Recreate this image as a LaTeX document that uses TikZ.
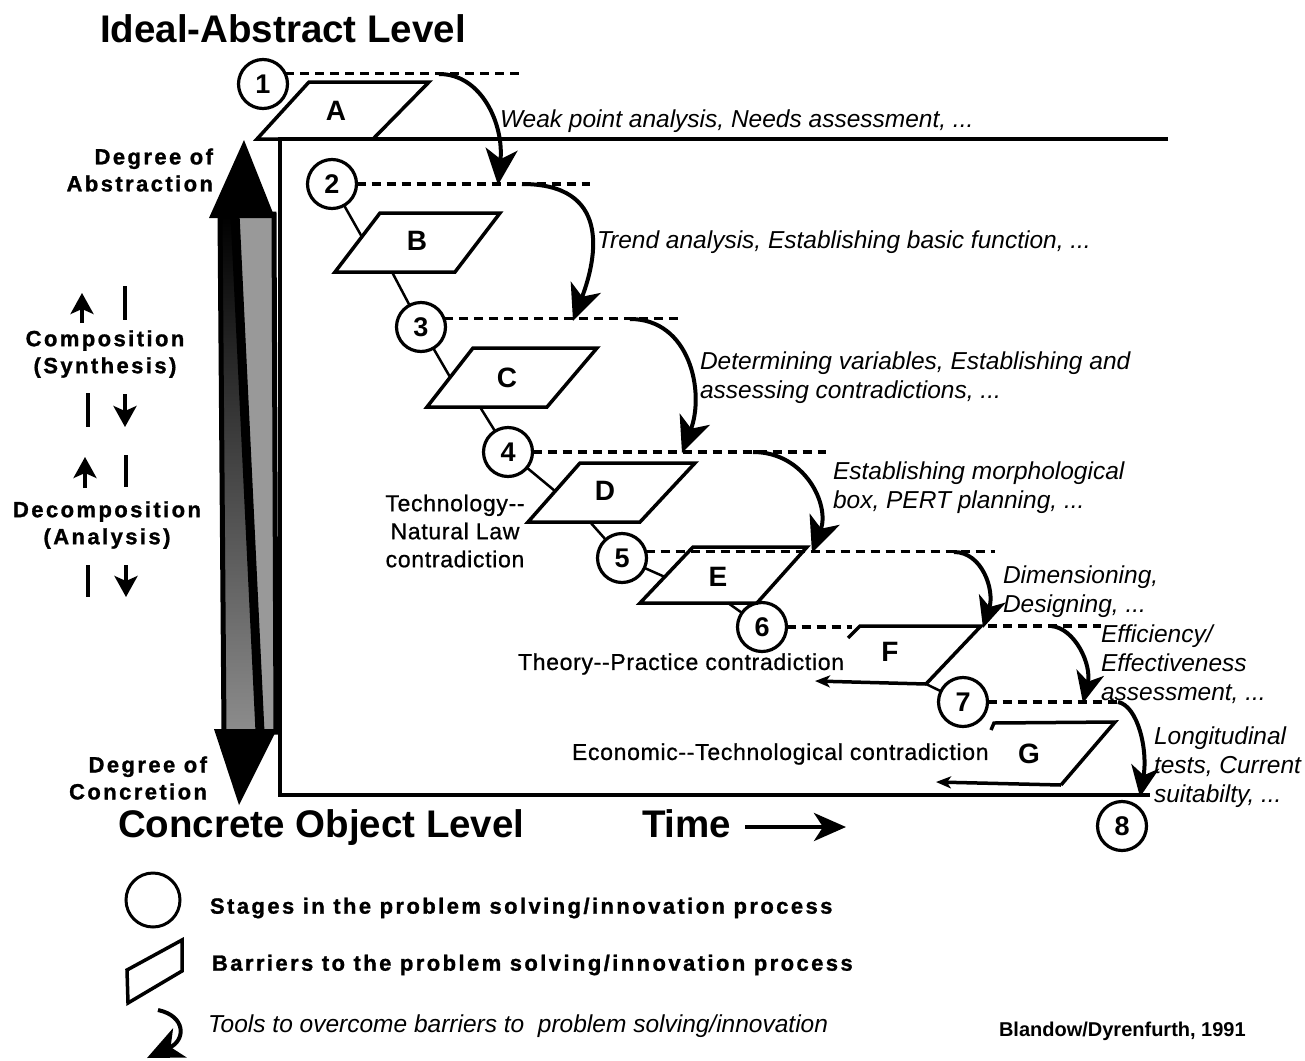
\documentclass[tikz,border=0pt]{standalone}
\usepackage{fontspec}
\setmainfont{Liberation Sans}
\newfontfamily\trackedfont[LetterSpace=11, BoldFeatures={FakeBold=1.2}]{Liberation Sans}
\newfontfamily\notefont[LetterSpace=3, FakeBold=0.8]{Liberation Sans}
\usetikzlibrary{arrows.meta}

\begin{document}
\begin{tikzpicture}[x=1pt, y=-1pt,
  every node/.style={inner sep=0pt, outer sep=0pt},
  stage/.style={draw, circle, line width=3.2pt, minimum size=49pt,
    font=\fontsize{27}{27}\selectfont\bfseries},
  barrier/.style={line width=3.5pt, line join=miter},
  barrierlbl/.style={font=\fontsize{28}{28}\selectfont\bfseries},
  link/.style={line width=2.5pt},
  levelline/.style={line width=3.2pt, dash pattern=on 9pt off 6pt},
  frameline/.style={line width=4pt, line join=miter},
  toolarrow/.style={line width=4pt, -{Stealth[length=36pt, width=32pt, inset=10pt]}},
  tooltarrow/.style={line width=4pt, -{Stealth[length=31pt, width=28pt, inset=9pt]}},
  exitarrow/.style={line width=3.5pt, -{Stealth[length=15pt, width=12pt, inset=4pt]}},
  tooltext/.style={font=\fontsize{24.5}{29}\selectfont\itshape, align=left, anchor=west},
  levelname/.style={font=\fontsize{38.5}{40}\selectfont\bfseries, anchor=base west},
  axislbl/.style={font=\trackedfont\fontsize{22}{27}\selectfont\bfseries},
  clash/.style={font=\notefont\fontsize{23}{28}\selectfont},
  keytext/.style={font=\trackedfont\fontsize{22}{26}\selectfont\bfseries, anchor=west},
  smallarrow/.style={line width=3.5pt, -{Stealth[length=21pt, width=23pt, inset=5pt]}},
  smallbar/.style={line width=3.5pt}
]
\fill[white] (0,0) rectangle (1305,1060);
\useasboundingbox (0,0) rectangle (1305,1060);

% ---------- level titles ----------
\node[levelname] (ideal) at (100,42) {Ideal-Abstract Level};
\node[levelname] (concrete) at (118,837) {Concrete Object Level};
\node[levelname] (time) at (642,837) {Time};
\coordinate (timestart) at (745,827);
\coordinate (timeend) at (846,827);
\draw[line width=4pt, -{Stealth[length=32pt, width=28pt, inset=9pt]}] (timestart) -- (timeend);

% ---------- frame ----------
\coordinate (fTR) at (1168,139);
\coordinate (fTL) at (280,139);
\coordinate (fBL) at (280,795);
\coordinate (fBR) at (1150,795);
\draw[frameline] (fTR) -- (fTL) -- (fBL) -- (fBR);

% ---------- abstraction / concretion double arrow ----------
\shade[top color=black, bottom color=black!45] (220,214) -- (233,214) -- (258,732) -- (224,732) -- cycle;
\draw[line width=5pt, line join=miter] (220,214) -- (233,214) -- (258,732) -- (224,732) -- cycle;
\filldraw[fill=black!40, line width=5pt, line join=miter] (237,214) -- (274,214) -- (276,732) -- (262,732) -- cycle;
\fill (244,140) -- (275,218) -- (209,218) -- cycle;
\fill (214,729) -- (277,729) -- (239,805) -- cycle;

% ---------- axis labels ----------
\node[axislbl, align=right, anchor=east] (abstr) at (213,170) {Degree of\\Abstraction};
\node[axislbl, align=center] (comp) at (105,354) {Composition\\(Synthesis)};
\node[axislbl, align=center] (decomp) at (107,525) {Decomposition\\(Analysis)};
\node[axislbl, align=right, anchor=east] (concr) at (207,778) {Degree of\\Concretion};
\draw[smallarrow] (82,323) -- (82,293);
\draw[smallbar] (125,286) -- (125,320);
\draw[smallbar] (88,393) -- (88,427);
\draw[smallarrow] (125,394) -- (125,427);
\draw[smallarrow] (85,488) -- (85,457);
\draw[smallbar] (126,455) -- (126,487);
\draw[smallbar] (88,565) -- (88,597);
\draw[smallarrow] (126,565) -- (126,597);

% ---------- stages ----------
\node[stage] (s1) at (263,84) {1};
\node[stage] (s2) at (332,184) {2};
\node[stage] (s3) at (421,327) {3};
\node[stage] (s4) at (508,452) {4};
\node[stage] (s5) at (622,558) {5};
\node[stage] (s6) at (762,627) {6};
\node[stage] (s7) at (963,702) {7};
\node[stage] (s8) at (1122,826) {8};

% ---------- stage levels (dashed) ----------
\coordinate (lv1) at (520,73);
\coordinate (lv2) at (590,184);
\coordinate (lv3) at (678,319);
\coordinate (lv4) at (826,452);
\coordinate (lv5) at (995,552);
\coordinate (lv6a) at (852,626);
\coordinate (lv6b) at (988,626);
\coordinate (lv6c) at (1101,626);
\coordinate (lv7) at (1120,702);
\draw[levelline] (s1.26) -- (s1.26 -| lv1);
\draw[levelline] (s2.east) -- (s2.east -| lv2);
\draw[levelline] (s3.20) -- (s3.20 -| lv3);
\draw[levelline] (s4.east) -- (s4.east -| lv4);
\draw[levelline] (s5.15) -- (s5.15 -| lv5);
\draw[levelline] (s6.east) -- (s6.east -| lv6a);
\draw[levelline] (lv6b) -- (lv6c);
\draw[levelline] (s7.east) -- (s7.east -| lv7);

% ---------- barriers ----------
\draw[barrier] (309,82) -- (429,82) -- (373,139) -- (257,139) -- cycle;
\draw[barrier] (380,213) -- (500,213) -- (455,272) -- (335,272) -- cycle;
\draw[barrier] (473,348) -- (597,348) -- (547,407) -- (427,407) -- cycle;
\draw[barrier] (580,463) -- (695,463) -- (640,522) -- (528,522) -- cycle;
\draw[barrier] (693,547) -- (807,547) -- (757,603) -- (640,603) -- cycle;
\coordinate (F-tl) at (860,626);
\coordinate (F-tr) at (981,626);
\coordinate (F-out) at (926,684);
\coordinate (F-end) at (815,681);
\draw[barrier] (848,638) -- (F-tl) -- (F-tr) -- (F-out);
\draw[exitarrow] (F-out) -- (F-end);
\coordinate (G-tl) at (994,723);
\coordinate (G-tr) at (1115,722);
\coordinate (G-br) at (1061,785);
\coordinate (G-end) at (936,782);
\draw[barrier] (991,730) -- (G-tl) -- (G-tr) -- (G-br);
\draw[exitarrow] (G-br) -- (G-end);

\node[barrierlbl] (bA) at (336,111) {A};
\node[barrierlbl] (bB) at (417,241) {B};
\node[barrierlbl] (bC) at (507,378) {C};
\node[barrierlbl] (bD) at (605,491) {D};
\node[barrierlbl] (bE) at (718,577) {E};
\node[barrierlbl] (bF) at (890,652) {F};
\node[barrierlbl] (bG) at (1029,754) {G};

% ---------- links between stages and barriers ----------
\coordinate (B-in) at (362,237);
\coordinate (B-out) at (392,272);
\coordinate (C-in) at (450,377);
\coordinate (C-out) at (480,407);
\coordinate (D-in) at (555,491);
\coordinate (D-out) at (590,522);
\coordinate (E-in) at (665,577);
\coordinate (E-out) at (728,603);
\draw[link] (s2) -- (B-in);
\draw[link] (B-out) -- (s3);
\draw[link] (s3) -- (C-in);
\draw[link] (C-out) -- (s4);
\draw[link] (s4) -- (D-in);
\draw[link] (D-out) -- (s5);
\draw[link] (s5) -- (E-in);
\draw[link] (E-out) -- (s6);
\draw[link] (F-out) -- (s7);

% ---------- tools (curved arrows) ----------
\coordinate (t1a) at (439,74);  \coordinate (t1b) at (498,185);
\coordinate (t2a) at (522,184); \coordinate (t2b) at (573,321);
\coordinate (t3a) at (630,319); \coordinate (t3b) at (682,453);
\coordinate (t4a) at (753,452); \coordinate (t4b) at (812,553);
\coordinate (t5a) at (954,552); \coordinate (t5b) at (983,628);
\coordinate (t6a) at (1051,626); \coordinate (t6b) at (1083,703);
\coordinate (t7a) at (1118,702); \coordinate (t7b) at (1140,797);
\draw[toolarrow] (t1a) .. controls (482,74) and (504,125) .. (t1b);
\draw[toolarrow] (t2a) .. controls (610,184) and (598,255) .. (t2b);
\draw[toolarrow] (t3a) .. controls (690,319) and (705,392) .. (t3b);
\draw[toolarrow] (t4a) .. controls (805,452) and (830,505) .. (t4b);
\draw[tooltarrow] (t5a) .. controls (982,552) and (995,590) .. (t5b);
\draw[tooltarrow] (t6a) .. controls (1075,628) and (1092,665) .. (t6b);
\draw[tooltarrow] (t7a) .. controls (1138,706) and (1148,750) .. (t7b);

% ---------- tool descriptions ----------
\node[tooltext] (tool1) at (500,121) {Weak point analysis, Needs assessment, ...};
\node[tooltext] (tool2) at (597,242) {Trend analysis, Establishing basic function, ...};
\node[tooltext] (tool3) at (700,378) {Determining variables, Establishing and\\assessing contradictions, ...};
\node[tooltext] (tool4) at (833,488) {Establishing morphological\\box, PERT planning, ...};
\node[tooltext] (tool5) at (1003,592) {Dimensioning,\\Designing, ...};
\node[tooltext] (tool6) at (1101,664) {Efficiency/\\Effectiveness\\assessment, ...};
\node[tooltext] (tool7) at (1154,767) {Longitudinal\\tests, Current\\suitabilty, ...};

% ---------- contradictions ----------
\node[clash, align=center] (clash1) at (455,531) {Technology-{}-\\Natural Law\\contradiction};
\node[clash, anchor=west] (clash2) at (518,664) {Theory-{}-Practice contradiction};
\node[clash, anchor=west] (clash3) at (572,754) {Economic-{}-Technological contradiction};

% ---------- key ----------
\node[draw, circle, line width=3pt, minimum size=54pt] (keystage) at (153,900) {};
\draw[barrier] (127,970) -- (182,940) -- (182,971) -- (128,1003) -- cycle;
\coordinate (keytoola) at (158,1010);
\coordinate (keytoolb) at (147,1058);
\draw[toolarrow] (keytoola) .. controls (186,1016) and (186,1040) .. (keytoolb);
\node[keytext] (keystagetxt) at (210,908) {Stages in the problem solving/innovation process};
\node[keytext] (keybartxt) at (212,965) {Barriers to the problem solving/innovation process};
\node[tooltext] (keytooltxt) at (208,1026) {Tools to overcome barriers to \ problem solving/innovation};
\node[font=\fontsize{20}{20}\selectfont\bfseries, anchor=west] (credit) at (999,1031) {Blandow/Dyrenfurth, 1991};

\end{tikzpicture}
\end{document}
